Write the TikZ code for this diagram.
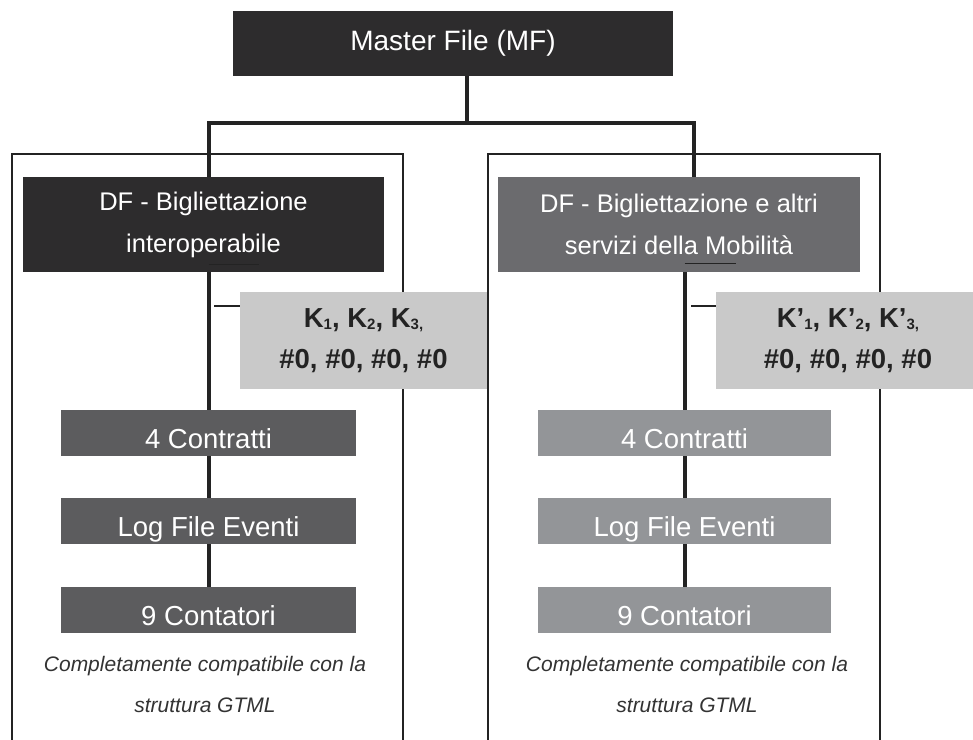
\documentclass[tikz,border=0pt]{standalone}
\usepackage{fontspec}
\setmainfont{Liberation Sans}
\usetikzlibrary{positioning}
\definecolor{darkbox}{HTML}{2D2C2D}
\definecolor{midbox}{HTML}{6B6B6E}
\definecolor{lowdark}{HTML}{5C5C5E}
\definecolor{lowlight}{HTML}{939598}
\definecolor{keybox}{HTML}{C9C9C9}
\definecolor{inkdark}{HTML}{232323}
\definecolor{notegray}{HTML}{333333}
% small lowered index used in the key names
\newcommand{\keyidx}[1]{\raisebox{-2pt}{\fontsize{15}{15}\selectfont #1}}
\tikzset{
  filebox/.style={inner sep=0pt, text=white, align=center},
  masterbox/.style={filebox, fill=darkbox, minimum width=440pt, minimum height=65pt,
    font=\fontsize{28}{34}\selectfont},
  dfbox/.style={filebox, minimum width=361pt, minimum height=95pt,
    font=\fontsize{25.5}{42}\selectfont},
  keysbox/.style={inner sep=0pt, fill=keybox, text=inkdark, align=center,
    minimum height=97pt, font=\fontsize{27.5}{41}\selectfont\bfseries},
  recbox/.style={filebox, minimum width=295pt, minimum height=46pt,
    text height=30pt, text depth=0pt, font=\fontsize{27.5}{33}\selectfont},
  notetext/.style={inner sep=0pt, text=notegray, align=center,
    font=\fontsize{21}{41}\selectfont\itshape},
  bus/.style={draw=inkdark, line width=4pt, line join=miter},
  frameline/.style={draw=inkdark, line width=1.5pt},
  tickline/.style={draw=inkdark, line width=1.4pt}
}
\begin{document}
\begin{tikzpicture}[x=1pt,y=-1pt]
\useasboundingbox (0,0) rectangle (973,739);

% open-bottomed frames around the two dedicated files
\draw[frameline] (12,745) -- (12,154) -- (403,154) -- (403,745);
\draw[frameline] (488,745) -- (488,154) -- (880,154) -- (880,745);

% master file
\node[masterbox] (mf) at (453,43.5) {Master File (MF)};

% dedicated files
\node[dfbox, fill=darkbox] (dfL) at (203.5,224.5) {DF - Bigliettazione\\interoperabile};
\node[dfbox, fill=midbox, minimum width=362pt] (dfR) at (679,224.5) {DF - Bigliettazione e altri\\servizi della Mobilità};

% key sets
\node[keysbox, minimum width=247pt] (kL) at (363.5,340.5)
  {K\keyidx{1}, K\keyidx{2}, K\keyidx{3,}\\\#0, \#0, \#0, \#0};
\node[keysbox, minimum width=264pt] (kR) at (848,340.5)
  {K’\keyidx{1}, K’\keyidx{2}, K’\keyidx{3,}\\\#0, \#0, \#0, \#0};

% records, left branch
\node[recbox, fill=lowdark] (cL) at (208.5,433) {4 Contratti};
\node[recbox, fill=lowdark] (lL) at (208.5,521) {Log File Eventi};
\node[recbox, fill=lowdark] (nL) at (208.5,610) {9 Contatori};
% records, right branch
\node[recbox, fill=lowlight, minimum width=293pt] (cR) at (684.5,433) {4 Contratti};
\node[recbox, fill=lowlight, minimum width=293pt] (lR) at (684.5,521) {Log File Eventi};
\node[recbox, fill=lowlight, minimum width=293pt] (nR) at (684.5,610) {9 Contatori};

% compatibility notes
\node[notetext] (noteL) at (205,684) {Completamente compatibile con la\\struttura GTML};
\node[notetext] (noteR) at (687,684) {Completamente compatibile con la\\struttura GTML};

% tree connectors
\coordinate (j) at (467,123);
\draw[bus] (mf.south -| j) -- (j);
\draw[bus] (dfL.north -| cL.north) |- (j) -| ([xshift=15pt]dfR.north);

\draw[bus] (dfL.south -| cL.north) -- (cL.north);
\draw[bus] (cL.south) -- (lL.north);
\draw[bus] (lL.south) -- (nL.north);

\draw[bus] (dfR.south -| cR.north) -- (cR.north);
\draw[bus] (cR.south) -- (lR.north);
\draw[bus] (lR.south) -- (nR.north);

% short strokes at the base of the dedicated files
\draw[tickline] ([yshift=8pt]dfL.south -| cL.north) -- ++(50,0);
\draw[tickline] ([yshift=9pt]dfR.south -| cR.north) -- ++(51,0);

% ticks pointing to the key sets
\draw[tickline] ([yshift=-14pt]kL.north west) -- ++(-26,0);
\draw[tickline] ([yshift=-14pt]kR.north west) -- ++(-25,0);
\end{tikzpicture}
\end{document}
